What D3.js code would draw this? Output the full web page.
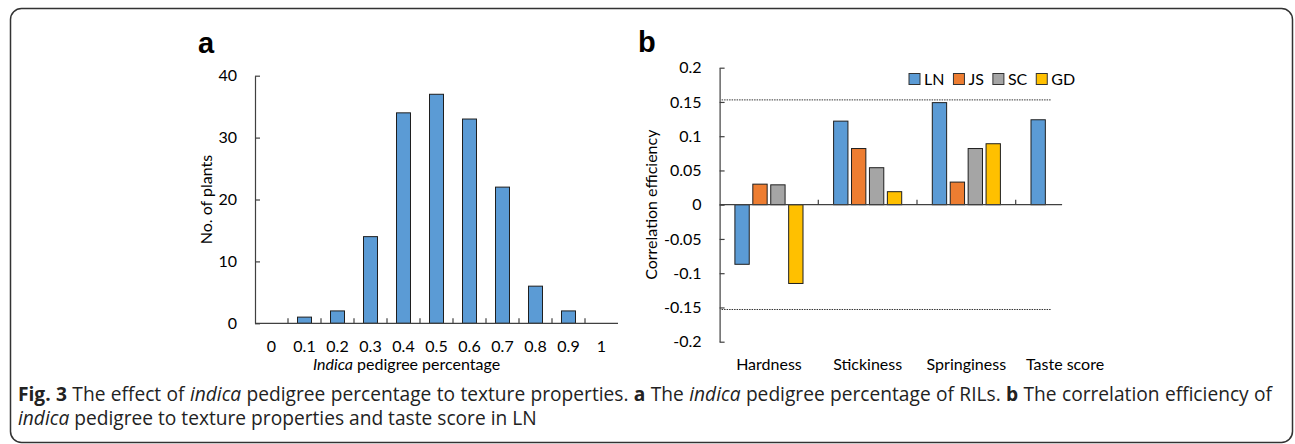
<!DOCTYPE html>
<html lang="en">
<head>
    <meta charset="UTF-8">
    <title>Fig. 3 indica pedigree percentage</title>
    <style>
        body { margin: 0; background: #fff; }
        svg text { fill: #000; }
        .tick text { font-family: Lato, "Open Sans", sans-serif; font-size: 16px; }
        .lbl { font-family: Lato, "Open Sans", sans-serif; font-size: 16px; }
        .caption { font-family: "Open Sans", sans-serif; font-size: 18px; fill: #222; }
    </style>
    <script src="https://cdnjs.cloudflare.com/ajax/libs/d3/7.8.5/d3.min.js"></script>
</head>
<body>
    <div id="chart"></div>

    <script>
        // panel a: histogram of indica pedigree percentage
        const pedigreeBins = ["0", "0.1", "0.2", "0.3", "0.4", "0.5", "0.6", "0.7", "0.8", "0.9", "1"];
        const plantCounts = [0, 1, 2, 14, 34, 37, 33, 22, 6, 2, 0];
        const countTicks = [0, 10, 20, 30, 40];

        // panel b: correlation of indica pedigree with texture properties
        const properties = ["Hardness", "Stickiness", "Springiness", "Taste score"];
        const populations = ["LN", "JS", "SC", "GD"];
        const corrLN = [-0.087, 0.122, 0.149, 0.124];
        const corrJS = [0.030, 0.082, 0.033, null];
        const corrSC = [0.029, 0.054, 0.082, null];
        const corrGD = [-0.115, 0.019, 0.089, null];
        const corrTicks = [-0.2, -0.15, -0.1, -0.05, 0, 0.05, 0.1, 0.15, 0.2];
        const thresholds = [0.153, -0.153];

        const colors = { LN: "#5B9BD5", JS: "#ED7D31", SC: "#A5A5A5", GD: "#FFC000" };
        const axisColor = "#404040";

        const W = 1295, H = 444;
        const svg = d3.select("#chart").append("svg")
            .attr("width", W).attr("height", H);

        // outer frame
        svg.append("rect")
            .attr("x", 10.5).attr("y", 8.5)
            .attr("width", 1282).attr("height", 434)
            .attr("rx", 11).attr("ry", 11)
            .attr("fill", "none").attr("stroke", "#333").attr("stroke-width", 1.5);

        function styleAxis(g) {
            g.selectAll(".domain").attr("stroke", axisColor).attr("stroke-width", 1.2);
            g.selectAll(".tick line").attr("stroke", axisColor).attr("stroke-width", 1.2);
        }

        // ---------- panel a ----------
        const xa = d3.scaleBand()
            .domain(pedigreeBins)
            .range([255, 618])
            .paddingInner(0.576)
            .paddingOuter(0.288);
        const ya = d3.scaleLinear().domain([0, 40]).range([323.3, 75.7]);

        svg.append("text")
            .attr("x", 198).attr("y", 53)
            .style("font-family", "Liberation Sans, Arial, sans-serif")
            .style("font-weight", "bold").style("font-size", "29px")
            .text("a");

        svg.selectAll(".bar-a")
            .data(plantCounts.map((v, i) => ({ bin: pedigreeBins[i], v })))
            .enter().append("rect")
            .attr("class", "bar-a")
            .attr("x", d => xa(d.bin))
            .attr("y", d => ya(d.v))
            .attr("width", xa.bandwidth())
            .attr("height", d => ya(0) - ya(d.v))
            .attr("fill", colors.LN)
            .attr("stroke", "#1f1f1f").attr("stroke-width", d => d.v > 0 ? 1 : 0);

        // y axis (ticks point inward)
        svg.append("g")
            .attr("transform", `translate(255,0)`)
            .call(d3.axisRight(ya).tickValues(countTicks).tickSize(5).tickSizeOuter(0))
            .call(styleAxis)
            .call(g => g.selectAll(".tick text").attr("x", -18).attr("text-anchor", "end"));

        // x axis: ticks between bins, pointing up
        const stepA = xa.step();
        const gxa = svg.append("g").attr("transform", `translate(0,${ya(0)})`);
        gxa.append("line")
            .attr("x1", xa.range()[0]).attr("x2", xa.range()[1])
            .attr("stroke", axisColor).attr("stroke-width", 1.2);
        gxa.selectAll(".sep")
            .data(pedigreeBins.slice(1))
            .enter().append("line")
            .attr("x1", d => xa(d) - xa.paddingInner() * stepA / 2)
            .attr("x2", d => xa(d) - xa.paddingInner() * stepA / 2)
            .attr("y1", 0).attr("y2", -5)
            .attr("stroke", axisColor).attr("stroke-width", 1.2);
        gxa.selectAll(".lab")
            .data(pedigreeBins)
            .enter().append("text")
            .attr("class", "lbl")
            .attr("x", d => xa(d) + xa.bandwidth() / 2)
            .attr("y", 29)
            .attr("text-anchor", "middle")
            .text(d => d);

        const titleA = svg.append("text")
            .attr("class", "lbl")
            .attr("x", (xa.range()[0] + xa.range()[1]) / 2 - 30)
            .attr("y", 370)
            .attr("text-anchor", "middle");
        titleA.append("tspan").style("font-style", "italic").text("Indica");
        titleA.append("tspan").text(" pedigree percentage");

        svg.append("text")
            .attr("class", "lbl")
            .attr("transform", `translate(212,${(ya(0) + ya(40)) / 2}) rotate(-90)`)
            .attr("text-anchor", "middle")
            .text("No. of plants");

        // ---------- panel b ----------
        const xb = d3.scaleBand()
            .domain(properties)
            .range([719.6, 1114.4])
            .paddingInner(0.31)
            .paddingOuter(0.155);
        const xs = d3.scaleBand()
            .domain(populations)
            .range([0, xb.bandwidth()])
            .paddingInner(0.2);
        const yb = d3.scaleLinear().domain([-0.2, 0.2]).range([341.7, 67.7]);

        svg.append("text")
            .attr("x", 638).attr("y", 52)
            .style("font-family", "Liberation Sans, Arial, sans-serif")
            .style("font-weight", "bold").style("font-size", "29px")
            .text("b");

        const seriesValues = { LN: corrLN, JS: corrJS, SC: corrSC, GD: corrGD };
        const barsB = [];
        properties.forEach((p, i) => {
            populations.forEach(s => {
                const v = seriesValues[s][i];
                if (v !== null) barsB.push({ p, s, v });
            });
        });

        // dotted significance thresholds
        const stepB = xb.step();
        const lineEnd = xb("Taste score") + xs("LN") + xs.bandwidth() + 6;
        svg.selectAll(".thr")
            .data(thresholds)
            .enter().append("line")
            .attr("x1", xb.range()[0] + 2).attr("x2", lineEnd)
            .attr("y1", d => yb(d)).attr("y2", d => yb(d))
            .attr("stroke", "#333").attr("stroke-width", 1)
            .attr("stroke-dasharray", "1.5,1");

        svg.selectAll(".bar-b")
            .data(barsB)
            .enter().append("rect")
            .attr("class", "bar-b")
            .attr("x", d => xb(d.p) + xs(d.s))
            .attr("y", d => yb(Math.max(0, d.v)))
            .attr("width", xs.bandwidth())
            .attr("height", d => Math.abs(yb(d.v) - yb(0)))
            .attr("fill", d => colors[d.s])
            .attr("stroke", "#1f1f1f").attr("stroke-width", 1);

        svg.append("g")
            .attr("transform", `translate(${xb.range()[0]},0)`)
            .call(d3.axisRight(yb).tickValues(corrTicks).tickSize(5).tickSizeOuter(0)
                .tickFormat(d => String(+d.toFixed(2))))
            .call(styleAxis)
            .call(g => g.selectAll(".tick text").attr("x", -18).attr("text-anchor", "end"));

        // category axis at zero, clipped like the source figure
        const axisEnd = xb("Taste score") + stepB * 0.47 - xb.paddingInner() * stepB / 2;
        const gxb = svg.append("g").attr("transform", `translate(0,${yb(0)})`);
        gxb.append("line")
            .attr("x1", xb.range()[0]).attr("x2", axisEnd)
            .attr("stroke", axisColor).attr("stroke-width", 1.2);
        gxb.selectAll(".sep")
            .data(properties.slice(1))
            .enter().append("line")
            .attr("x1", d => xb(d) - xb.paddingInner() * stepB / 2)
            .attr("x2", d => xb(d) - xb.paddingInner() * stepB / 2)
            .attr("y1", 0).attr("y2", -5)
            .attr("stroke", axisColor).attr("stroke-width", 1.2);

        svg.selectAll(".cat-b")
            .data(properties)
            .enter().append("text")
            .attr("class", "lbl")
            .attr("x", d => xb(d) + xb.bandwidth() / 2)
            .attr("y", 370)
            .attr("text-anchor", "middle")
            .text(d => d);

        svg.append("text")
            .attr("class", "lbl")
            .attr("transform", `translate(657,${yb(0)}) rotate(-90)`)
            .attr("text-anchor", "middle")
            .text("Correlation efficiency");

        // legend
        const legend = svg.append("g").attr("transform", "translate(909,79)");
        let lx = 0;
        populations.forEach(s => {
            const item = legend.append("g").attr("transform", `translate(${lx},0)`);
            item.append("rect")
                .attr("x", 0).attr("y", -5.5).attr("width", 11).attr("height", 11)
                .attr("fill", colors[s]).attr("stroke", "#333").attr("stroke-width", 1);
            const t = item.append("text")
                .attr("class", "lbl")
                .attr("x", 15).attr("y", 5.5)
                .text(s);
            lx += 15 + t.node().getComputedTextLength() + 9;
        });

        // caption: second line sets the type size, first line is justified
        const capLeft = 18, capRight = 1272, line2End = 537;

        const cap2 = svg.append("text").attr("class", "caption").attr("x", capLeft).attr("y", 425);
        cap2.append("tspan").style("font-style", "italic").text("indica");
        cap2.append("tspan").text(" pedigree to texture properties and taste score in LN");
        const capSize = 18 * (line2End - capLeft) / cap2.node().getComputedTextLength();
        cap2.style("font-size", `${capSize}px`);

        const cap1 = svg.append("text").attr("class", "caption")
            .attr("x", capLeft).attr("y", 401)
            .style("font-size", `${capSize}px`);
        cap1.append("tspan").style("font-weight", "bold").text("Fig. 3");
        cap1.append("tspan").text(" The effect of ");
        cap1.append("tspan").style("font-style", "italic").text("indica");
        cap1.append("tspan").text(" pedigree percentage to texture properties. ");
        cap1.append("tspan").style("font-weight", "bold").text("a");
        cap1.append("tspan").text(" The ");
        cap1.append("tspan").style("font-style", "italic").text("indica");
        cap1.append("tspan").text(" pedigree percentage of RILs. ");
        cap1.append("tspan").style("font-weight", "bold").text("b");
        cap1.append("tspan").text(" The correlation efficiency of");

        const natural = cap1.node().getComputedTextLength();
        const spaces = (cap1.text().match(/ /g) || []).length;
        cap1.style("word-spacing", `${(capRight - capLeft - natural) / spaces}px`);
    </script>
</body>
</html>
